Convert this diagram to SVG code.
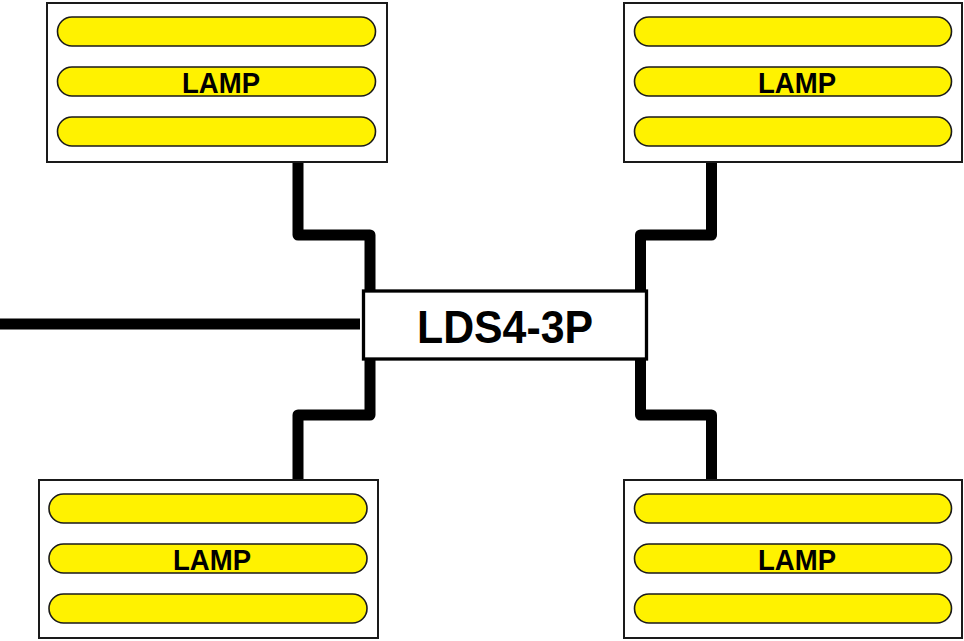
<svg xmlns="http://www.w3.org/2000/svg" width="964" height="641" viewBox="0 0 964 641">
  <style>
    .box { fill: #ffffff; stroke: #1a1a1a; stroke-width: 2; }
    .lamp { fill: #fff200; stroke: #1a1a1a; stroke-width: 1.6; }
    .lbl { font-family: "Liberation Sans", Arial, sans-serif; font-weight: bold; font-size: 30px; fill: #000; text-anchor: middle; }
    .wire { fill: none; stroke: #000; stroke-width: 11; stroke-linejoin: round; stroke-linecap: butt; }
    .ctl { fill: #ffffff; stroke: #000; stroke-width: 3.3; }
    .ctltxt { font-family: "Liberation Sans", Arial, sans-serif; font-weight: bold; font-size: 46px; fill: #000; text-anchor: middle; }
  </style>
  <g id="connectors">
    <path class="wire" d="M298,162 V235 H370 V290"/>
    <path class="wire" d="M370,360 V415 H298 V480"/>
    <path class="wire" d="M711.5,162 V235 H640.5 V290"/>
    <path class="wire" d="M640.5,360 V415 H711.5 V480"/>
    <path class="wire" d="M0,324 H360"/>
  </g>
  <g id="lamp-top-left">
    <rect class="box" x="47" y="3" width="340" height="159"/>
    <rect class="lamp" x="57.5" y="17" width="318" height="29" rx="14.5"/>
    <rect class="lamp" x="57.5" y="67" width="318" height="29" rx="14.5"/>
    <rect class="lamp" x="57.5" y="117" width="318" height="29" rx="14.5"/>
    <text class="lbl" x="221" y="92.5" textLength="78" lengthAdjust="spacingAndGlyphs">LAMP</text>
  </g>
  <g id="lamp-top-right">
    <rect class="box" x="624" y="3" width="338" height="159"/>
    <rect class="lamp" x="634.5" y="17" width="317" height="29" rx="14.5"/>
    <rect class="lamp" x="634.5" y="67" width="317" height="29" rx="14.5"/>
    <rect class="lamp" x="634.5" y="117" width="317" height="29" rx="14.5"/>
    <text class="lbl" x="797" y="92.5" textLength="78" lengthAdjust="spacingAndGlyphs">LAMP</text>
  </g>
  <g id="lamp-bottom-left">
    <rect class="box" x="39" y="480" width="339" height="158"/>
    <rect class="lamp" x="49" y="494" width="318" height="29" rx="14.5"/>
    <rect class="lamp" x="49" y="544" width="318" height="29" rx="14.5"/>
    <rect class="lamp" x="49" y="594" width="318" height="29" rx="14.5"/>
    <text class="lbl" x="212" y="569.5" textLength="78" lengthAdjust="spacingAndGlyphs">LAMP</text>
  </g>
  <g id="lamp-bottom-right">
    <rect class="box" x="624" y="480" width="338" height="158"/>
    <rect class="lamp" x="634.5" y="494" width="317" height="29" rx="14.5"/>
    <rect class="lamp" x="634.5" y="544" width="317" height="29" rx="14.5"/>
    <rect class="lamp" x="634.5" y="594" width="317" height="29" rx="14.5"/>
    <text class="lbl" x="797" y="569.5" textLength="78" lengthAdjust="spacingAndGlyphs">LAMP</text>
  </g>
  <g id="controller">
    <rect class="ctl" x="363.5" y="291" width="283" height="68"/>
    <text class="ctltxt" x="505" y="342.5" textLength="176" lengthAdjust="spacingAndGlyphs">LDS4-3P</text>
  </g>
</svg>
